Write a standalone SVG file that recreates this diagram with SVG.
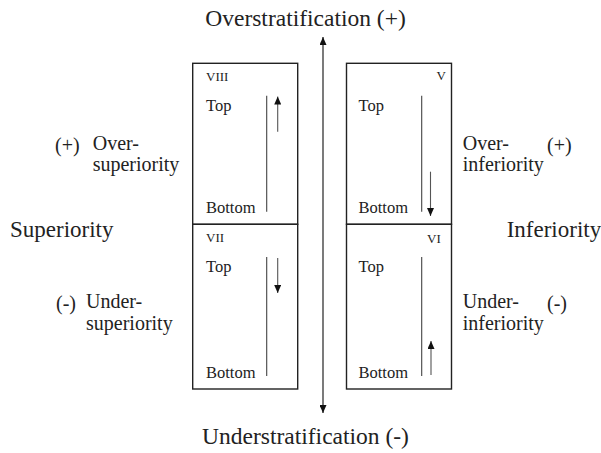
<svg xmlns="http://www.w3.org/2000/svg" width="601" height="453" viewBox="0 0 601 453">
<defs>
<marker id="ah" viewBox="0 0 8 7" refX="8" refY="3.5" markerWidth="8" markerHeight="7" markerUnits="userSpaceOnUse" orient="auto">
<path d="M0,0 L8,3.5 L0,7 z" fill="#111"/>
</marker>
<style>
text{fill:#222}
.big{font-size:23px}
.axis{font-size:23.5px}
.mid{font-size:20px}
.tb{font-size:16.5px}
.rn{font-size:13px}
.box{fill:none;stroke:#222;stroke-width:1.4}
.ln{stroke:#444;stroke-width:1.1;fill:none}
.ar{stroke:#555;stroke-width:1.1;fill:none;marker-end:url(#ah)}
.ax{stroke:#222;stroke-width:1.2;fill:none}
</style>
</defs>
<rect width="601" height="453" fill="#fff"/>

<g id="connectors">
<line class="ax" x1="323" y1="225" x2="323" y2="37" marker-end="url(#ah)"/>
<line class="ax" x1="323" y1="225" x2="323" y2="413" marker-end="url(#ah)"/>
</g>

<g font-family="'Liberation Serif', 'DejaVu Serif', serif">
<g id="axis-labels">
<text class="axis" x="305.5" y="26" text-anchor="middle">Overstratification (+)</text>
<text class="axis" x="305.5" y="444" text-anchor="middle">Understratification (-)</text>
</g>

<g id="box-VIII">
<rect class="box" x="192.7" y="63.3" width="105" height="161"/>
<text class="rn" x="206" y="81">VIII</text>
<text class="tb" x="206" y="111">Top</text>
<text class="tb" x="206" y="213">Bottom</text>
<line class="ln" x1="266.7" y1="95.7" x2="266.7" y2="211.7"/>
<line class="ar" x1="277.7" y1="131.7" x2="277.7" y2="96.5"/>
</g>

<g id="box-VII">
<rect class="box" x="192.7" y="224.3" width="105" height="164.7"/>
<text class="rn" x="206" y="242">VII</text>
<text class="tb" x="206" y="272">Top</text>
<text class="tb" x="206" y="378">Bottom</text>
<line class="ln" x1="266.7" y1="257" x2="266.7" y2="376"/>
<line class="ar" x1="277.7" y1="258" x2="277.7" y2="293"/>
</g>

<g id="box-V">
<rect class="box" x="346.5" y="63.3" width="105" height="161"/>
<text class="rn" x="436.5" y="80">V</text>
<text class="tb" x="358.5" y="111">Top</text>
<text class="tb" x="358.5" y="213">Bottom</text>
<line class="ln" x1="421.7" y1="95.7" x2="421.7" y2="211.7"/>
<line class="ar" x1="430.5" y1="171.7" x2="430.5" y2="216"/>
</g>

<g id="box-VI">
<rect class="box" x="346.5" y="224.3" width="105" height="164.7"/>
<text class="rn" x="427" y="243">VI</text>
<text class="tb" x="358.5" y="272">Top</text>
<text class="tb" x="358.5" y="378">Bottom</text>
<line class="ln" x1="421.7" y1="257" x2="421.7" y2="376"/>
<line class="ar" x1="431" y1="375" x2="431" y2="341"/>
</g>

<g id="label-superiority">
<text class="big" x="10" y="237">Superiority</text>
</g>
<g id="label-over-superiority">
<text class="mid" x="55" y="152">(+)</text>
<text class="mid" x="92.7" y="150">Over-</text>
<text class="mid" x="92.7" y="171">superiority</text>
</g>
<g id="label-under-superiority">
<text class="mid" x="56" y="310">(-)</text>
<text class="mid" x="86" y="308">Under-</text>
<text class="mid" x="86" y="330">superiority</text>
</g>

<g id="label-inferiority">
<text class="big" x="506.7" y="237">Inferiority</text>
</g>
<g id="label-over-inferiority">
<text class="mid" x="462.7" y="150">Over-</text>
<text class="mid" x="547" y="152">(+)</text>
<text class="mid" x="462.7" y="171">inferiority</text>
</g>
<g id="label-under-inferiority">
<text class="mid" x="462.7" y="308">Under-</text>
<text class="mid" x="547" y="310">(-)</text>
<text class="mid" x="462.7" y="330">inferiority</text>
</g>
</g>
</svg>
